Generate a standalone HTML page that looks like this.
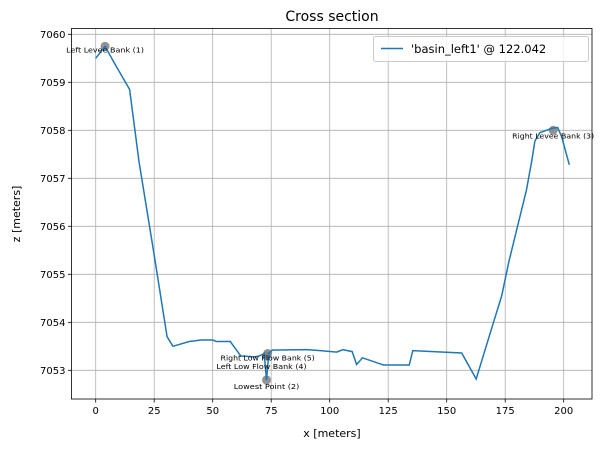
<!DOCTYPE html>
<html><head><meta charset="utf-8"><style>
body{margin:0;background:#fff;}
svg{display:block;font-family:"DejaVu Sans","Liberation Sans",sans-serif;}
</style></head><body>
<svg id="c" width="605" height="449"></svg>
<script>
const xs=[0,4,8,14.5,18.5,25,30.5,33,40,45,50,51.5,57.5,62,68,70,72,73,74,75.5,90,96,103,105.6,109.6,111.5,114,123,134,135.5,156.4,162.6,170,173.5,176.5,183.3,184.1,186.3,187.7,189.8,194.9,197.4,199.1,202.4];
const zs=[7059.5,7059.75,7059.4,7058.85,7057.35,7055.4,7053.7,7053.5,7053.6,7053.63,7053.63,7053.6,7053.6,7053.3,7053.28,7053.3,7053.35,7052.8,7053.36,7053.42,7053.43,7053.41,7053.38,7053.43,7053.39,7053.12,7053.26,7053.11,7053.11,7053.41,7053.36,7052.82,7054.0,7054.55,7055.25,7056.6,7056.76,7057.35,7057.78,7057.95,7058.04,7058.06,7057.87,7057.28];
const markerNames=["Left Levee Bank (1)","Lowest Point (2)","Right Levee Bank (3)","Left Low Flow Bank (4)","Right Low Flow Bank (5)"];
const markerX=[4,73,195.5,73,73.5];
const markerZ=[7059.75,7052.8,7058.0,7053.3,7053.35];
const labelDx=[0,0,0,-5,0];
const labelDy=[6,9,8,13,7];
const xTicks=[0,25,50,75,100,125,150,175,200];
const yTicks=[7053,7054,7055,7056,7057,7058,7059,7060];
const L=71.5,R=592,T=28.5,B=399;
const X=v=>95.7+v*2.34, Y=v=>34.3+(7060-v)*48;
const svg=document.getElementById('c');const NS='http://www.w3.org/2000/svg';
function mk(t,a,p){const e=document.createElementNS(NS,t);for(const k in a)e.setAttribute(k,a[k]);(p||svg).appendChild(e);return e;}
const defs=mk('defs',{});const cp=mk('clipPath',{id:'clip'},defs);mk('rect',{x:L,y:T,width:R-L,height:B-T},cp);
xTicks.forEach(v=>{const g=mk('line',{x1:X(v),x2:X(v),y1:T,y2:B,stroke:'#b0b0b0','stroke-width':0.8});

mk('line',{x1:X(v),x2:X(v),y1:B,y2:B+3.5,stroke:'#000','stroke-width':0.8});
const t=mk('text',{x:X(v),y:B+15,'font-size':10,'text-anchor':'middle'});t.textContent=v;
});
yTicks.forEach(v=>{const g=mk('line',{x1:L,x2:R,y1:Y(v),y2:Y(v),stroke:'#b0b0b0','stroke-width':0.8});

mk('line',{x1:L-3.5,x2:L,y1:Y(v),y2:Y(v),stroke:'#000','stroke-width':0.8});
const t=mk('text',{x:L-6,y:Y(v)+3.5,'font-size':10,'text-anchor':'end'});t.textContent=v;
});
const pg=mk('g',{'clip-path':'url(#clip)'});
markerX.forEach((v,i)=>{const c=mk('circle',{cx:X(v),cy:Y(markerZ[i]),r:4.5,fill:'#808080','fill-opacity':0.85},pg);
});
const line=mk('polyline',{points:xs.map((v,i)=>X(v)+','+Y(zs[i])).join(' '),fill:'none',stroke:'#1f77b4','stroke-width':1.5},pg);

markerX.forEach((v,i)=>{const t=mk('text',{x:X(v)+labelDx[i],y:Y(markerZ[i])+labelDy[i],'font-size':7,'text-anchor':'middle',textLength:markerNames[i].length*4.1,lengthAdjust:'spacingAndGlyphs'});t.textContent=markerNames[i];
});
mk('rect',{x:L,y:T,width:R-L,height:B-T,fill:'none',stroke:'#000','stroke-width':0.8});
const ti=mk('text',{x:332,y:21,'font-size':14,'text-anchor':'middle'});ti.textContent='Cross section';

const xl=mk('text',{x:332,y:437,'font-size':11,'text-anchor':'middle'});xl.textContent='x [meters]';

const yl=mk('text',{x:0,y:0,'font-size':11,'text-anchor':'middle',transform:'translate(20,214) rotate(-90)'});yl.textContent='z [meters]';

const lg=mk('g',{});
mk('rect',{x:373.5,y:36.5,width:215,height:25,rx:2,fill:'#fff','fill-opacity':0.8,stroke:'#ccc'},lg);
mk('line',{x1:381,x2:403,y1:48.5,y2:48.5,stroke:'#1f77b4','stroke-width':1.5},lg);
const lt=mk('text',{x:411,y:53,'font-size':11.5},lg);lt.textContent="'basin_left1' @ 122.042";

</script>
</body></html>
